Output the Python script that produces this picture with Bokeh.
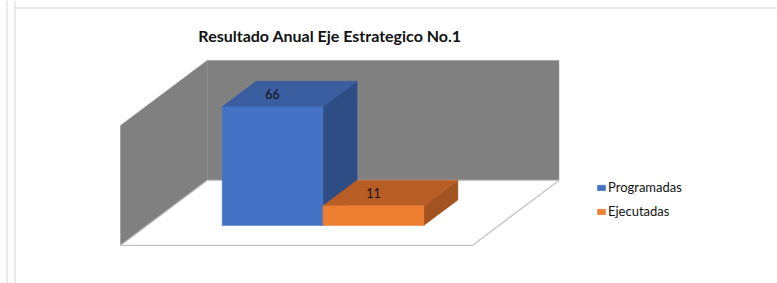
from bokeh.plotting import figure
from bokeh.models import Range1d, Label, Legend, LegendItem, Span, ColumnDataSource
from bokeh.embed import file_html
from bokeh.resources import INLINE
from bokeh.core.properties import value

# ---- data ----
categories = ["Programadas", "Ejecutadas"]
values = [66, 11]
front_colors = ["#4472C4", "#ED7D31"]
top_colors = ["#3A5DA0", "#B85D24"]
side_colors = ["#2F4D85", "#A3531F"]
title_text = "Resultado Anual Eje Estrategico No.1"

# ---- layout / projection constants ----
W, H = 777, 283
PX_PER_X = 100.8     # pixels per category unit
PX_PER_V = 1.8       # pixels per value unit
X0_PX = 221.7        # frame pixel of x = 0
V0_PX = 225.0        # frame pixel (from top) of value 0
DX, DV = 0.86, 36.1  # oblique projection of a unit of depth
D_FLOOR_FRONT, D_BACK = -0.307, 0.693
BAR_DEPTH = 0.393
FLOOR_X0, FLOOR_X1 = -0.745, 2.745
WALL_TOP = 66.7


def proj(pts):
    xs = [x + d * DX for x, v, d in pts]
    ys = [v + d * DV for x, v, d in pts]
    return xs, ys


def px_to_x(fx):
    return (fx - X0_PX) / PX_PER_X


def px_to_v(fy):
    return (V0_PX - fy) / PX_PER_V


p = figure(width=W, height=H, output_backend="svg", toolbar_location=None,
           x_range=Range1d(px_to_x(0), px_to_x(W)),
           y_range=Range1d(px_to_v(H), px_to_v(0)),
           min_border=0, outline_line_color=None)
p.axis.visible = False
p.grid.visible = False
p.background_fill_color = "white"
p.border_fill_color = "white"

# container frame lines
for xx in (6.5, 14.5):
    p.add_layout(Span(location=px_to_x(xx), dimension="height", line_color="#d4d4d4", line_width=1))
top_line = p.segment(x0=[px_to_x(14.5)], y0=[px_to_v(7.5)], x1=[px_to_x(W)], y1=[px_to_v(7.5)],
                     line_color="#d4d4d4", line_width=1)

# walls
left_wall = proj([(FLOOR_X0, 0, D_FLOOR_FRONT), (FLOOR_X0, WALL_TOP, D_FLOOR_FRONT),
                  (FLOOR_X0, WALL_TOP, D_BACK), (FLOOR_X0, 0, D_BACK)])
back_wall = proj([(FLOOR_X0, 0, D_BACK), (FLOOR_X0, WALL_TOP, D_BACK),
                  (FLOOR_X1, WALL_TOP, D_BACK), (FLOOR_X1, 0, D_BACK)])
p.patches([left_wall[0], back_wall[0]], [left_wall[1], back_wall[1]],
          fill_color="#808080", line_color="#8c8c8c", line_width=0.5)

floor = proj([(FLOOR_X0, 0, D_FLOOR_FRONT), (FLOOR_X1, 0, D_FLOOR_FRONT),
              (FLOOR_X1, 0, D_BACK), (FLOOR_X0, 0, D_BACK)])
p.patch(floor[0], floor[1], fill_color="white", line_color="#c4c4c4", line_width=1.3)

# bars
front_renderers = []
for i, v in enumerate(values):
    x0, x1, d1 = i, i + 1, BAR_DEPTH
    side = proj([(x1, 0, 0), (x1, v, 0), (x1, v, d1), (x1, 0, d1)])
    top = proj([(x0, v, 0), (x1, v, 0), (x1, v, d1), (x0, v, d1)])
    front = proj([(x0, 0, 0), (x1, 0, 0), (x1, v, 0), (x0, v, 0)])
    p.patch(side[0], side[1], fill_color=side_colors[i], line_color=side_colors[i], line_width=0.5)
    p.patch(top[0], top[1], fill_color=top_colors[i], line_color=top_colors[i], line_width=0.5)
    r = p.patch(front[0], front[1], fill_color=front_colors[i], line_color=front_colors[i], line_width=0.5)
    front_renderers.append(r)

# data labels
lab = ColumnDataSource(dict(x=[i + 0.5 for i in range(len(values))],
                            y=[v + 0.2 * DV for v in values],
                            t=[str(v) for v in values]))
p.text(x="x", y="y", text="t", source=lab, text_align="center", text_baseline="middle",
       text_font=value("Lato"), text_font_size="12.5px", text_color="#111111")

# title
p.add_layout(Label(x=px_to_x(329.5), y=px_to_v(34.5), text=title_text, text_align="center",
                   text_baseline="middle", text_font="Lato", text_font_style="bold",
                   text_font_size="16px", text_color="#111111"))

# legend
legend = Legend(items=[LegendItem(label=c, renderers=[front_renderers[i]])
                       for i, c in enumerate(categories)],
                location=(596, 64), orientation="vertical",
                glyph_width=10, glyph_height=7, label_height=7, spacing=8,
                label_standoff=2, padding=0, margin=0,
                label_text_font="Lato", label_text_font_size="13px", label_text_color="#111111",
                border_line_color=None, background_fill_alpha=0)
p.add_layout(legend)

open("out.html", "w").write(file_html(p, INLINE))
